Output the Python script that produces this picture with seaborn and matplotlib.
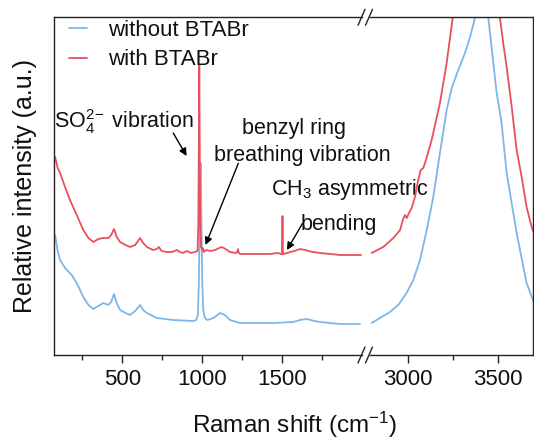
import numpy as np
import pandas as pd
import matplotlib
matplotlib.use("Agg")
import matplotlib.pyplot as plt
from matplotlib.lines import Line2D
import seaborn as sns

# ---------------- data ----------------
series_names = ["without BTABr", "with BTABr"]
colors = ["#7fb6e8", "#e8505c"]

# low-wavenumber window (cm^-1)
red_low_x = [80, 96, 111, 142, 173, 215, 256, 288, 319, 350, 381, 413, 430, 448, 465, 486,
             520, 548, 580, 611, 630, 654, 692, 715, 729, 745, 779, 810, 842, 860, 879, 904,
             930, 954, 970, 975, 978, 981, 984, 987, 992, 1000, 1004, 1010, 1015, 1029, 1048,
             1080, 1105, 1123, 1145, 1173, 1210, 1218, 1223, 1228, 1236, 1300, 1361, 1420,
             1473, 1492, 1498, 1501, 1504, 1508, 1530, 1549, 1575, 1611, 1642, 1690, 1736,
             1800, 1861, 1930, 1992]
red_low_y = [198, 187, 182, 168, 155, 140, 125, 117, 113, 116, 117, 117, 120, 126, 118, 113,
             110, 108, 110, 117, 112, 108, 105, 106, 108, 104, 103, 103, 105, 103, 102, 104,
             102, 103, 104, 130, 200, 290, 200, 130, 108, 105, 107, 103, 104, 105, 104,
             105, 107, 108, 106, 103, 102, 103, 106, 102, 101, 101, 101, 101,
             102, 101, 101, 139, 101, 101, 102, 103, 104, 106, 105, 103, 102,
             101, 100, 100, 100]

blue_low_x = [80, 96, 111, 142, 184, 215, 256, 288, 319, 350, 381, 413, 430, 448, 465, 486,
              520, 548, 580, 611, 630, 653, 715, 819, 944, 962, 972, 978, 982, 986, 989, 992,
              996, 1000, 1006, 1014, 1022, 1032, 1069, 1095, 1111, 1142, 1173, 1236, 1444,
              1569, 1610, 1653, 1700, 1736, 1861, 1986]
blue_low_y = [120, 104, 95, 87, 80, 72, 58, 50, 46, 49, 52, 50, 53, 61, 52, 45,
              42, 40, 44, 50, 45, 42, 37, 35, 34, 35, 40, 70, 115, 170, 192, 170,
              115, 70, 45, 38, 36, 35, 37, 40, 42, 40, 35, 32, 32,
              33, 35, 36, 34, 33, 31, 31]

# high-wavenumber window (cm^-1)
red_high_x = [2801, 2865, 2921, 2958, 2973, 2985, 2995, 3007, 3022, 3040, 3058, 3072, 3086,
              3101, 3132, 3178, 3215, 3248, 3300, 3360, 3420, 3480, 3509, 3527, 3546, 3574,
              3601, 3629, 3656, 3684, 3697]
red_high_y = [102, 108, 117, 125, 135, 140, 137, 142, 147, 158, 175, 185, 187,
              195, 215, 252, 292, 337, 400, 450, 470, 430, 337, 312, 288, 248,
              205, 178, 148, 128, 122]

blue_high_x = [2801, 2865, 2902, 2948, 2994, 3031, 3068, 3105, 3141, 3178, 3215, 3243, 3279,
               3316, 3344, 3371, 3400, 3425, 3445, 3491, 3518, 3546, 3601, 3656, 3697]
blue_high_y = [32, 39, 43, 50, 62, 75, 95, 125, 158, 202, 245, 267, 285,
               302, 318, 337, 365, 360, 337, 262, 232, 182, 122, 72, 52]

x_ticks_low = [500, 1000, 1500]
x_minor_low = [250, 750, 1250, 1750]
x_ticks_high = [3000, 3500]
x_minor_high = [3250]

# ---------------- styling ----------------
sns.set_theme(style="ticks")
plt.rcParams["font.family"] = ["Liberation Sans", "DejaVu Sans"]
plt.rcParams["mathtext.fontset"] = "custom"
plt.rcParams["mathtext.rm"] = "Liberation Sans"
plt.rcParams["mathtext.it"] = "Liberation Sans:italic"
plt.rcParams["mathtext.bf"] = "Liberation Sans:bold"

W, H = 534, 441
fig = plt.figure(figsize=(W / 100, H / 100), dpi=100)

def fx(px):
    return px / W

def fy(py):
    return 1 - py / H

top_px, bot_px = 17.3, 355.0
ax1 = fig.add_axes([fx(54), fy(bot_px), fx(362) - fx(54), fy(top_px) - fy(bot_px)])
ax2 = fig.add_axes([fx(370), fy(bot_px), fx(533.3) - fx(370), fy(top_px) - fy(bot_px)])
ax2.patch.set_visible(False)

df_low = pd.concat([
    pd.DataFrame({"x": blue_low_x, "y": blue_low_y, "s": series_names[0]}),
    pd.DataFrame({"x": red_low_x, "y": red_low_y, "s": series_names[1]}),
])
df_high = pd.concat([
    pd.DataFrame({"x": blue_high_x, "y": blue_high_y, "s": series_names[0]}),
    pd.DataFrame({"x": red_high_x, "y": red_high_y, "s": series_names[1]}),
])
pal = dict(zip(series_names, colors))

sns.lineplot(data=df_low, x="x", y="y", hue="s", palette=pal, sort=False,
             estimator=None, lw=1.3, ax=ax1)
sns.lineplot(data=df_high, x="x", y="y", hue="s", palette=pal, sort=False,
             estimator=None, lw=1.3, ax=ax2, legend=False)

ymax = 337.7
for ax in (ax1, ax2):
    ax.set_ylim(0, ymax)
    ax.set_yticks([])
    ax.set_xlabel("")
    ax.set_ylabel("")
    for sp in ax.spines.values():
        sp.set_color("#222222")
        sp.set_linewidth(1.0)
    ax.tick_params(axis="x", which="major", direction="out", length=6, width=1.0,
                   color="#222222", labelsize=16, pad=4, labelcolor="#111111")
    ax.tick_params(axis="x", which="minor", direction="out", length=3.5, width=1.0,
                   color="#222222")

ax1.set_xlim(73, 1998)
ax2.set_xlim(2792, 3693)
ax1.set_xticks(x_ticks_low)
ax1.set_xticks(x_minor_low, minor=True)
ax2.set_xticks(x_ticks_high)
ax2.set_xticks(x_minor_high, minor=True)
ax1.spines["right"].set_visible(False)
ax2.spines["left"].set_visible(False)

# legend
leg = ax1.legend(loc="upper left", bbox_to_anchor=(fx(69.3), fy(20.0)),
                 bbox_transform=fig.transFigure, frameon=False, fontsize=16,
                 handlelength=0.8, handletextpad=0.95, labelspacing=0.38,
                 borderpad=0, borderaxespad=0, title=None)
for t in leg.get_texts():
    t.set_color("#111111")

# annotations
txt_kw = dict(fontsize=15.5, color="#111111")
arrow_kw = dict(arrowstyle="-|>", color="black", lw=1.0, mutation_scale=11,
                shrinkA=0, shrinkB=0)
ax1.text(76, 226.7, r"$\mathregular{SO_4^{2\!-}}$ vibration", ha="left", va="baseline", **txt_kw)
ax1.annotate("", xy=(902, 199), xytext=(818, 222), arrowprops=arrow_kw)

ax1.text(1576, 220.7, "benzyl ring", ha="center", va="baseline", **txt_kw)
ax1.text(1623, 194, "breathing vibration", ha="center", va="baseline", **txt_kw)
ax1.annotate("", xy=(1020, 110), xytext=(1225, 191.7), arrowprops=arrow_kw)

ax1.text(1429, 160, r"CH$_3$ asymmetric", ha="left", va="baseline", **txt_kw)
ax1.text(1617, 125, "bending", ha="left", va="baseline", **txt_kw)
ax1.annotate("", xy=(1529, 105), xytext=(1626, 131.5), arrowprops=arrow_kw)

# axis labels
fig.text(fx(295), fy(433), r"Raman shift (cm$^{-1}$)", ha="center", va="baseline",
         fontsize=17.5, color="#111111")
fig.text(fx(25), fy(186), "Relative intensity (a.u.)", ha="center", va="center",
         rotation=90, fontsize=18, color="#111111")

# axis-break marks
for yc in (top_px, bot_px):
    for xc in (361.5, 369.0):
        fig.add_artist(Line2D([fx(xc - 3.5), fx(xc + 3.5)], [fy(yc + 8), fy(yc - 8)],
                              transform=fig.transFigure, color="#222222", lw=1.0))

fig.savefig("out.png", dpi=100)
